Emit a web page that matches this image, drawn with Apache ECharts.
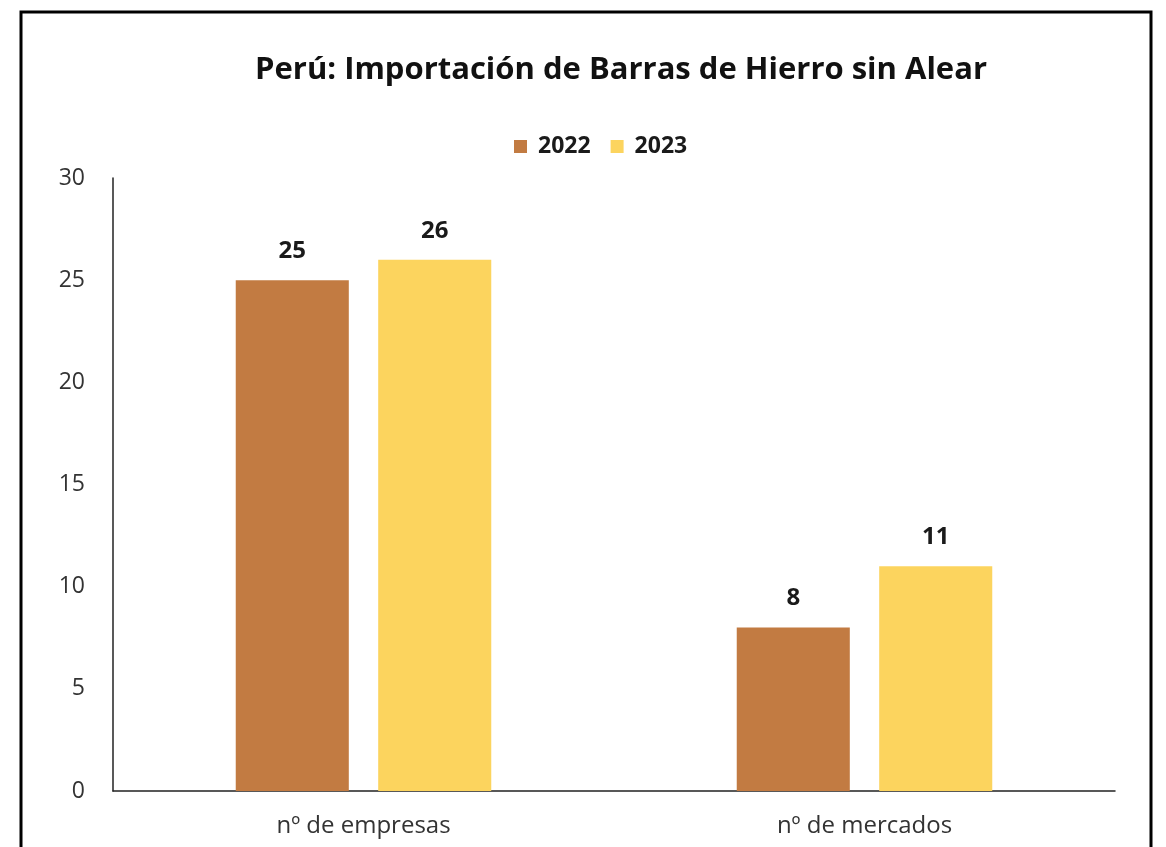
<!DOCTYPE html>
<html>
<head>
<meta charset="utf-8">
<script src="https://cdn.jsdelivr.net/npm/echarts@6/dist/echarts.min.js"></script>
<style>
  html, body { margin: 0; padding: 0; background: #fff; }
  #chart { width: 1166px; height: 847px; }
</style>
</head>
<body>
<div id="chart"></div>
<script>
// datos
const categorias = ["nº de empresas", "nº de mercados"]
const anios = ["2022", "2023"]
const valores2022 = [25, 8]
const valores2023 = [26, 11]
const ticksY = { min: 0, max: 30, interval: 5 }

const fuente = "'Open Sans', 'Noto Sans', sans-serif"

const chart = echarts.init(document.getElementById("chart"))

const etiqueta = {
  show: true,
  position: "top",
  distance: 17,
  fontFamily: fuente,
  fontSize: 24,
  fontWeight: "bold",
  color: "#1a1a1a"
}

chart.setOption({
  animation: false,
  // marco del gráfico
  graphic: [{
    type: "rect",
    shape: { x: 21, y: 12, width: 1130, height: 900 },
    style: { fill: "none", stroke: "#000", lineWidth: 3 }
  }],
  title: {
    text: "Perú: Importación de Barras de Hierro sin Alear",
    left: 616,
    top: 50,
    textAlign: "center",
    textStyle: { fontFamily: fuente, fontSize: 31, fontWeight: "bold", color: "#111" }
  },
  legend: {
    data: anios,
    top: 130,
    left: 509,
    itemWidth: 13,
    itemHeight: 13,
    itemGap: 20,
    icon: "rect",
    textStyle: { fontFamily: fuente, fontSize: 23, fontWeight: "bold", color: "#1a1a1a", padding: [0, 0, 0, 6] }
  },
  grid: { left: 113, right: 51, top: 178, bottom: 56 },
  xAxis: {
    type: "category",
    data: categorias,
    axisLine: { lineStyle: { color: "#222", width: 1.5 } },
    axisTick: { show: false },
    axisLabel: { margin: 23, fontFamily: fuente, fontSize: 24, color: "#333" }
  },
  yAxis: {
    type: "value",
    min: ticksY.min,
    max: ticksY.max,
    interval: ticksY.interval,
    axisLine: { show: true, lineStyle: { color: "#222", width: 1.5 } },
    axisTick: { show: false },
    splitLine: { show: false },
    axisLabel: { margin: 28, fontFamily: fuente, fontSize: 23, color: "#333" }
  },
  series: [
    {
      name: anios[0],
      type: "bar",
      data: valores2022,
      barGap: "26%",
      barCategoryGap: "49%",
      itemStyle: { color: "#C27B42" },
      label: etiqueta
    },
    {
      name: anios[1],
      type: "bar",
      data: valores2023,
      itemStyle: { color: "#FCD45E" },
      label: etiqueta
    }
  ]
})
</script>
</body>
</html>
